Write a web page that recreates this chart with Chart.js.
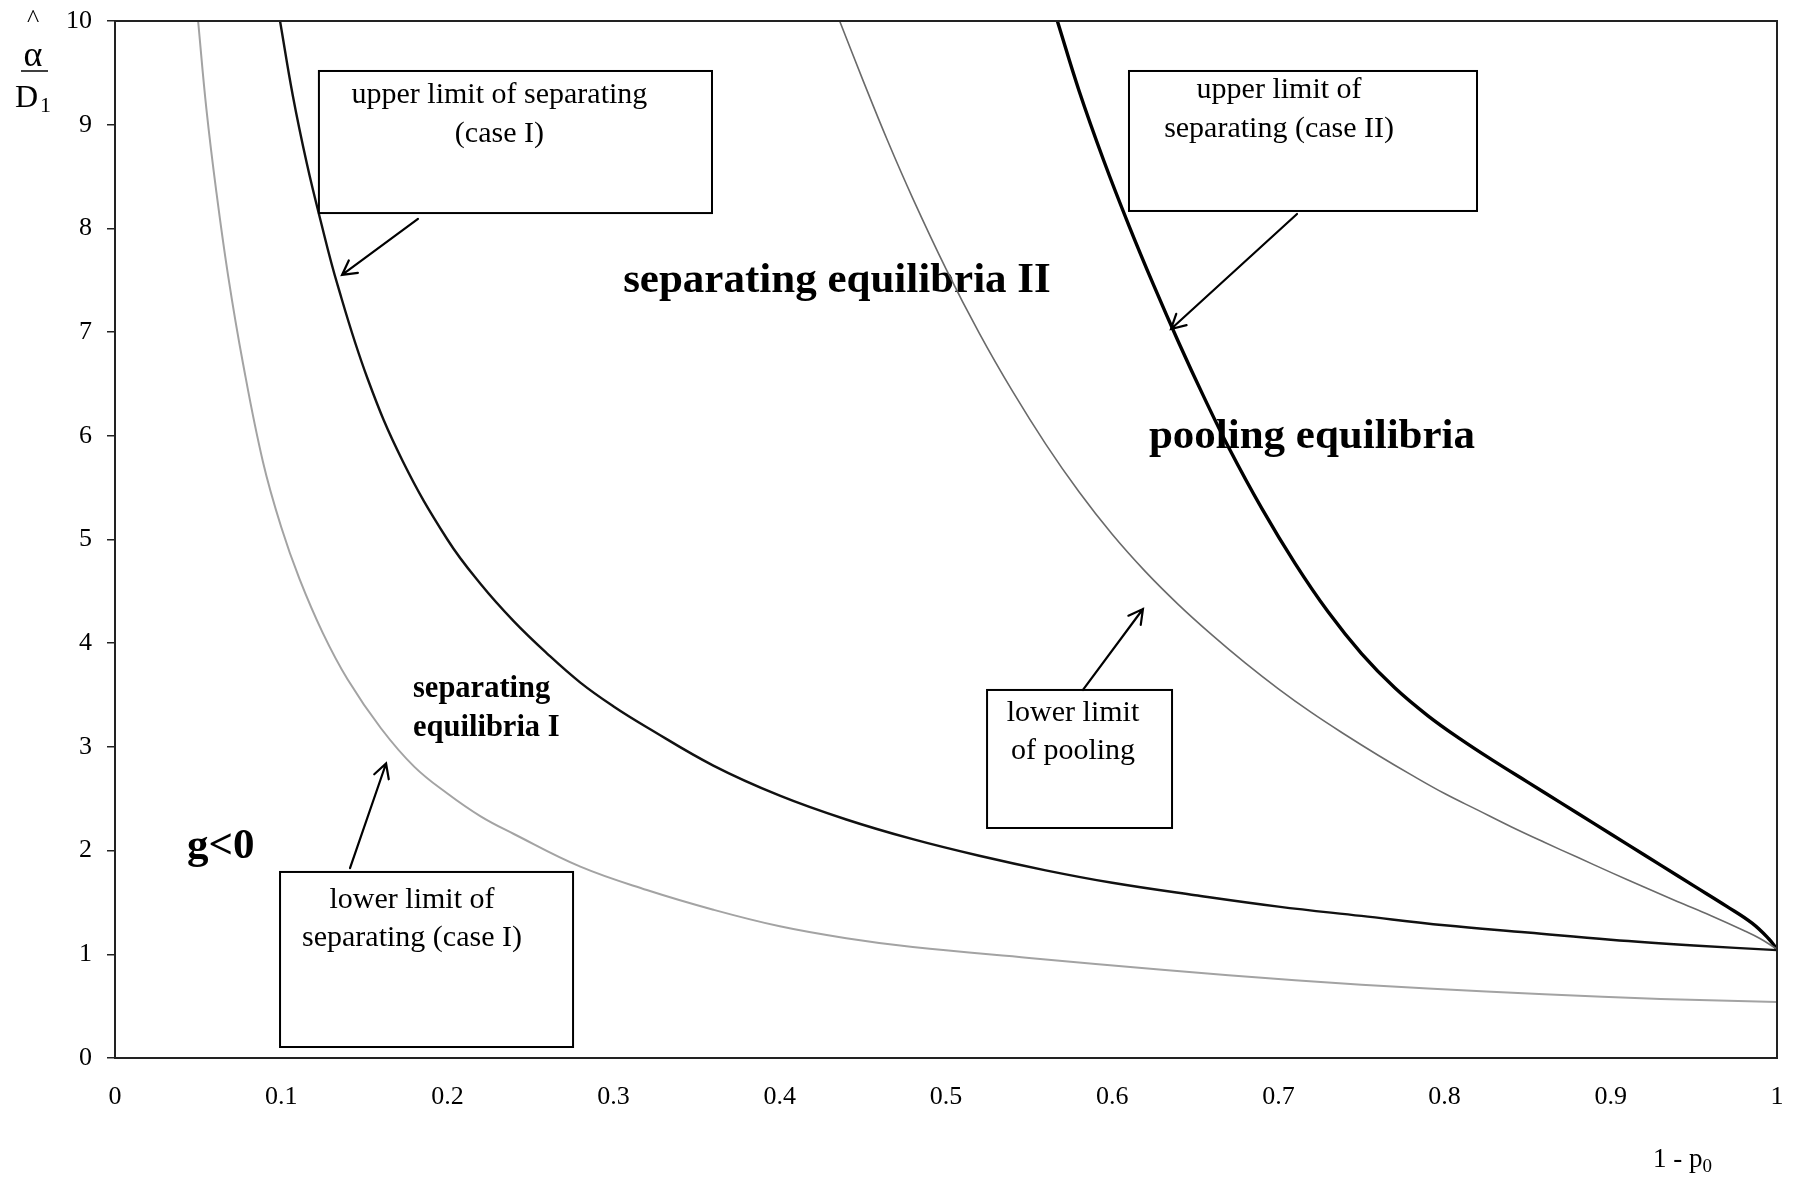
<!DOCTYPE html>
<html>
<head>
<meta charset="utf-8">
<script src="https://cdn.jsdelivr.net/npm/chart.js@4.4.1/dist/chart.umd.min.js"></script>
<style>
  html, body { margin: 0; padding: 0; background: #fff; }
  canvas { display: block; }
</style>
</head>
<body>
<canvas id="equilibriaChart" width="1795" height="1177"></canvas>
<script>
// x = 1 - p0, y = alpha^ / D1
const lowerSepIx = [0.050, 0.055, 0.061, 0.068, 0.077, 0.089, 0.100, 0.111, 0.125, 0.140, 0.160, 0.180, 0.200, 0.220, 0.240, 0.280, 0.320, 0.360, 0.400, 0.440, 0.480, 0.550, 0.630, 0.710, 0.790, 0.860, 0.930, 1.0];
const lowerSepIy = [10, 9.15, 8.35, 7.55, 6.70, 5.75, 5.12, 4.62, 4.10, 3.65, 3.18, 2.81, 2.55, 2.33, 2.16, 1.845, 1.62, 1.43, 1.27, 1.155, 1.07, 0.965, 0.85, 0.75, 0.67, 0.615, 0.57, 0.54];

const upperSepIx = [0.0993, 0.107, 0.1155, 0.123, 0.134, 0.152, 0.173, 0.200, 0.220, 0.240, 0.260, 0.280, 0.300, 0.320, 0.360, 0.400, 0.440, 0.480, 0.520, 0.560, 0.600, 0.650, 0.700, 0.750, 0.800, 0.850, 0.900, 0.950, 1.0];
const upperSepIy = [10, 9.28, 8.62, 8.12, 7.45, 6.55, 5.76, 5.00, 4.57, 4.21, 3.90, 3.62, 3.39, 3.19, 2.82, 2.53, 2.30, 2.11, 1.95, 1.81, 1.69, 1.57, 1.46, 1.37, 1.28, 1.21, 1.14, 1.085, 1.04];

const lowerPoolx = [0.436, 0.450, 0.465, 0.480, 0.500, 0.520, 0.540, 0.560, 0.580, 0.600, 0.620, 0.640, 0.660, 0.680, 0.700, 0.720, 0.740, 0.760, 0.780, 0.800, 0.820, 0.840, 0.860, 0.880, 0.900, 0.920, 0.940, 0.960, 0.980, 0.990, 1.0];
const lowerPooly = [10, 9.43, 8.84, 8.29, 7.61, 6.99, 6.43, 5.92, 5.46, 5.05, 4.69, 4.37, 4.08, 3.81, 3.56, 3.33, 3.12, 2.92, 2.73, 2.55, 2.39, 2.23, 2.08, 1.935, 1.79, 1.65, 1.51, 1.375, 1.23, 1.15, 1.05];

const upperSepIIx = [0.567, 0.580, 0.595, 0.610, 0.625, 0.640, 0.655, 0.670, 0.690, 0.710, 0.730, 0.750, 0.770, 0.790, 0.810, 0.830, 0.850, 0.870, 0.890, 0.910, 0.930, 0.950, 0.970, 0.985, 0.995, 1.0];
const upperSepIIy = [10, 9.33, 8.65, 8.03, 7.45, 6.90, 6.38, 5.89, 5.30, 4.77, 4.30, 3.90, 3.57, 3.30, 3.07, 2.86, 2.66, 2.46, 2.26, 2.06, 1.86, 1.66, 1.46, 1.30, 1.15, 1.05];

const xTickLabels = ['0', '0.1', '0.2', '0.3', '0.4', '0.5', '0.6', '0.7', '0.8', '0.9', '1'];
const yTickLabels = ['0', '1', '2', '3', '4', '5', '6', '7', '8', '9', '10'];

const serif = '"Liberation Serif", "Times New Roman", serif';

// annotations, in data units
const regionLabels = [
  { text: 'separating equilibria II', x: 0.4344, y: 7.387, align: 'center', font: 'bold 43px ' + serif },
  { text: 'pooling equilibria', x: 0.7202, y: 5.882, align: 'center', font: 'bold 43px ' + serif },
  { text: 'separating', x: 0.1793, y: 3.480, align: 'left', font: 'bold 30.5px ' + serif },
  { text: 'equilibria I', x: 0.1793, y: 3.104, align: 'left', font: 'bold 30.5px ' + serif },
  { text: 'g<0', x: 0.0433, y: 1.930, align: 'left', font: 'bold 43px ' + serif }
];
const noteBoxes = [
  { x0: 0.1227, y0: 9.518, x1: 0.3592, y1: 8.148 },
  { x0: 0.6101, y0: 9.518, x1: 0.8195, y1: 8.168 },
  { x0: 0.5247, y0: 3.549, x1: 0.6360, y1: 2.218 },
  { x0: 0.0993, y0: 1.794, x1: 0.2756, y1: 0.106 }
];
const noteTexts = [
  { text: 'upper limit of separating', x: 0.2313, y: 9.209 },
  { text: '(case I)', x: 0.2313, y: 8.833 },
  { text: 'upper limit of', x: 0.7004, y: 9.257 },
  { text: 'separating (case II)', x: 0.7004, y: 8.881 },
  { text: 'lower limit', x: 0.5764, y: 3.250 },
  { text: 'of pooling', x: 0.5764, y: 2.883 },
  { text: 'lower limit of', x: 0.1787, y: 1.447 },
  { text: 'separating (case I)', x: 0.1787, y: 1.080 }
];
const noteArrows = [
  { x0: 0.1823, y0: 8.091, x1: 0.1366, y1: 7.551 },
  { x0: 0.7112, y0: 8.139, x1: 0.6354, y1: 7.030 },
  { x0: 0.5824, y0: 3.549, x1: 0.6185, y1: 4.330 },
  { x0: 0.1414, y0: 1.830, x1: 0.1631, y1: 2.840 }
];

function toPoints(xs, ys) {
  return xs.map((x, i) => ({ x: x, y: ys[i] }));
}

function curve(label, xs, ys, color, width) {
  return {
    label: label,
    data: toPoints(xs, ys),
    borderColor: color,
    borderWidth: width,
    pointRadius: 0,
    fill: false,
    tension: 0.4
  };
}

const notesPlugin = {
  id: 'notes',
  beforeDatasetsDraw(chart) {
    const { ctx, scales: { x, y } } = chart;
    ctx.save();
    ctx.fillStyle = '#000';
    ctx.textBaseline = 'alphabetic';
    regionLabels.forEach(l => {
      ctx.font = l.font;
      ctx.textAlign = l.align;
      ctx.fillText(l.text, x.getPixelForValue(l.x), y.getPixelForValue(l.y));
    });
    ctx.restore();
  },
  afterDatasetsDraw(chart) {
    const { ctx, chartArea: a, scales: { x, y } } = chart;
    ctx.save();
    // frame round the plot
    ctx.strokeStyle = '#222';
    ctx.lineWidth = 2;
    ctx.strokeRect(a.left, a.top, a.right - a.left, a.bottom - a.top);

    ctx.strokeStyle = '#000';
    noteBoxes.forEach(b => {
      const px = x.getPixelForValue(b.x0), py = y.getPixelForValue(b.y0);
      const w = x.getPixelForValue(b.x1) - px, h = y.getPixelForValue(b.y1) - py;
      ctx.fillStyle = '#fff';
      ctx.fillRect(px, py, w, h);
      ctx.lineWidth = 2;
      ctx.strokeRect(px, py, w, h);
    });

    ctx.fillStyle = '#000';
    ctx.font = '30px ' + serif;
    ctx.textAlign = 'center';
    ctx.textBaseline = 'alphabetic';
    noteTexts.forEach(t => ctx.fillText(t.text, x.getPixelForValue(t.x), y.getPixelForValue(t.y)));

    ctx.lineWidth = 2.2;
    ctx.lineCap = 'round';
    noteArrows.forEach(ar => {
      const x0 = x.getPixelForValue(ar.x0), y0 = y.getPixelForValue(ar.y0);
      const x1 = x.getPixelForValue(ar.x1), y1 = y.getPixelForValue(ar.y1);
      const ang = Math.atan2(y1 - y0, x1 - x0), head = 16, spread = 0.5;
      ctx.beginPath();
      ctx.moveTo(x0, y0);
      ctx.lineTo(x1, y1);
      ctx.moveTo(x1 - head * Math.cos(ang - spread), y1 - head * Math.sin(ang - spread));
      ctx.lineTo(x1, y1);
      ctx.lineTo(x1 - head * Math.cos(ang + spread), y1 - head * Math.sin(ang + spread));
      ctx.stroke();
    });
    ctx.restore();
  },
  afterDraw(chart) {
    const { ctx, chartArea: a } = chart;
    ctx.save();
    ctx.fillStyle = '#000';
    ctx.strokeStyle = '#000';
    ctx.textBaseline = 'alphabetic';
    // y title: alpha hat over D1
    ctx.textAlign = 'center';
    ctx.font = '26px ' + serif;
    ctx.fillText('^', a.left - 82, a.top + 6);
    ctx.font = '36px ' + serif;
    ctx.fillText('α', a.left - 82, a.top + 45);
    ctx.lineWidth = 1.5;
    ctx.beginPath();
    ctx.moveTo(a.left - 94, a.top + 50);
    ctx.lineTo(a.left - 67, a.top + 50);
    ctx.stroke();
    ctx.textAlign = 'left';
    ctx.font = '32px ' + serif;
    ctx.fillText('D', a.left - 100, a.top + 86);
    ctx.font = '22px ' + serif;
    ctx.fillText('1', a.left - 75, a.top + 91);
    // x title: 1 - p0
    ctx.font = '27px ' + serif;
    ctx.fillText('1 - p', a.right - 124, a.bottom + 109);
    const w = ctx.measureText('1 - p').width;
    ctx.font = '19px ' + serif;
    ctx.fillText('0', a.right - 124 + w, a.bottom + 114);
    ctx.restore();
  }
};

const tickFont = { family: serif, size: 26 };

new Chart(document.getElementById('equilibriaChart'), {
  type: 'line',
  data: {
    datasets: [
      curve('lower limit of separating (case I)', lowerSepIx, lowerSepIy, '#a3a3a3', 2),
      curve('upper limit of separating (case I)', upperSepIx, upperSepIy, '#111', 2.4),
      curve('lower limit of pooling', lowerPoolx, lowerPooly, '#6a6a6a', 1.6),
      curve('upper limit of separating (case II)', upperSepIIx, upperSepIIy, '#000', 3.4)
    ]
  },
  options: {
    responsive: false,
    animation: false,
    layout: { padding: { top: 21, right: 18, left: 0, bottom: 0 } },
    plugins: { legend: { display: false }, tooltip: { enabled: false } },
    scales: {
      x: {
        type: 'linear',
        min: 0,
        max: 1,
        ticks: { stepSize: 0.1, padding: 24, color: '#000', font: tickFont, maxRotation: 0, callback: (v, i) => xTickLabels[i] },
        grid: { display: false, drawTicks: false },
        border: { display: false },
        afterFit: s => { s.height = 119; s.paddingLeft = 0; s.paddingRight = 0; }
      },
      y: {
        type: 'linear',
        min: 0,
        max: 10,
        ticks: { stepSize: 1, padding: 15, color: '#000', font: tickFont, callback: (v, i) => yTickLabels[i] },
        grid: { drawOnChartArea: false, drawTicks: true, tickLength: 8, color: '#222', lineWidth: 1.5 },
        border: { display: false },
        afterFit: s => { s.width = 115; s.paddingTop = 0; s.paddingBottom = 0; }
      }
    }
  },
  plugins: [notesPlugin]
});
</script>
</body>
</html>
